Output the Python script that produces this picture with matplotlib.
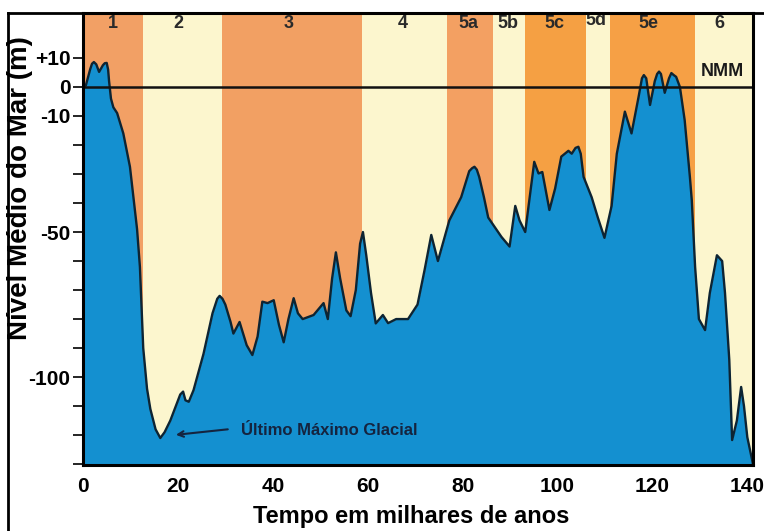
import numpy as np
import matplotlib.pyplot as plt
from matplotlib.lines import Line2D

plt.rcParams['font.family'] = ['Liberation Sans', 'DejaVu Sans']
plt.rcParams['font.weight'] = 'bold'

# Curva do nivel do mar (idade em milhares de anos, nivel em metros)
idade = [0, 0.6, 1.5, 1.9, 2.3, 2.8, 3.4, 4.2, 4.6, 5.0, 5.3, 5.5, 5.9, 6.4, 7.2, 8.5,
         9.9, 11.4, 12.0, 12.7, 13.5, 14.2, 15.3, 16.3, 17.2, 18.4, 20.5, 21.1, 21.6,
         22.3, 23.3, 25.4, 27.3, 28.3, 28.8, 29.4, 30.0, 31.1, 31.7, 33.0, 34.5, 35.7,
         36.8, 37.8, 38.9, 40.2, 41.3, 42.3, 43.3, 44.4, 45.3, 46.3, 48.6, 50.7, 51.6,
         52.5, 53.3, 54.2, 55.5, 56.4, 57.5, 58.4, 59.0, 59.7, 60.7, 61.7, 63.2, 64.3,
         66.0, 68.5, 70.5, 72.0, 73.4, 74.8, 76.0, 77.2, 79.7, 81.4, 82.0, 82.5, 83.0,
         83.5, 84.5, 85.4, 88.2, 89.9, 91.1, 92.0, 93.2, 95.1, 96.0, 96.8, 98.3, 99.5,
         100.8, 102.3, 103.0, 103.8, 104.4, 104.9, 105.5, 107.2, 108.5, 109.9, 111.4,
         112.5, 114.2, 115.6, 117.1, 117.8, 118.2, 118.7, 119.5, 120.5, 121.0, 121.4,
         121.8, 122.6, 123.5, 124.0, 124.5, 125.0, 125.8, 126.8, 127.9, 128.3, 129.0,
         129.8, 131.1, 132.1, 133.6, 134.7, 135.3, 136.2, 136.8, 137.8, 138.7, 139.3,
         140.0, 141.2]
nivel = [0, 0.5, 6, 8.0, 8.6, 7.8, 5.2, 7.5, 8.2, 8.3, 6, 2, -4, -7, -9, -16,
         -27.5, -49, -62, -90, -104, -111, -118, -121, -119, -115, -106, -105, -108,
         -108.5, -104.5, -92, -78, -73, -72, -73, -75, -81, -85, -81, -89, -92.4,
         -86, -74, -74.5, -73.5, -82, -88, -80, -72.8, -78, -80, -78.6, -74.5, -80,
         -66, -57, -66, -77, -79, -70, -54, -50, -58, -71, -81.5, -78.6, -81.4,
         -80, -80, -75, -63, -51, -60, -53, -46, -38, -29, -28, -27.5, -28.5,
         -31, -38, -45, -51.7, -55, -41, -46, -50, -25.8, -29.8, -29.3, -42.4, -35,
         -24, -22, -23, -21, -20.6, -23, -31, -38, -45, -52, -41,
         -23, -8.5, -16, -3.3, 3, 4.1, 3, -6.2, 2, 4.5, 5.3,
         4.5, -2, 3, 4.8, 4.1, 3.5, 0, -11.4, -31, -39, -62,
         -80, -83.8, -71, -58, -60, -71, -94, -121.7, -115, -103.4, -110,
         -120.7, -130]

# Estagios isotopicos marinhos (limites em milhares de anos)
estagios = ['1', '2', '3', '4', '5a', '5b', '5c', '5d', '5e', '6']
limites = [0, 12.7, 29.2, 58.8, 76.7, 86.5, 93.2, 106.1, 111.0, 129.0, 141.2]
cores_faixa = ['#F2A065', '#FCF6CE', '#F2A063', '#FCF6CE', '#F3A062',
               '#FCF6CE', '#F5A043', '#FCF6CE', '#F6A045', '#FCF6CE']
pos_rotulo = [6.3, 20.1, 43.3, 67.4, 81.2, 89.6, 99.4, 108.2, 119.2, 134.2]

yticks = list(range(-130, 11, 10))
ytick_labels = ['' for _ in yticks]
ytick_labels[yticks.index(10)] = '+10'
ytick_labels[yticks.index(0)] = '0'
ytick_labels[yticks.index(-10)] = '-10'
ytick_labels[yticks.index(-50)] = '-50'
ytick_labels[yticks.index(-100)] = '-100'
xticks = [0, 20, 40, 60, 80, 100, 120, 140]

fig = plt.figure(figsize=(7.64, 5.31), dpi=100)
ax = fig.add_axes([0.1086, 0.1243, 0.8770, 0.8512])

for i in range(len(estagios)):
    ax.axvspan(limites[i], limites[i + 1], color=cores_faixa[i], lw=0, zorder=0)
    y_txt = 23 if estagios[i] == '5d' else 22
    ax.text(pos_rotulo[i], y_txt, estagios[i], ha='center', va='center',
            fontsize=13, fontweight='bold', color='#2a2a2a')

ax.fill_between(idade, nivel, -135, color='#1490D0', lw=0, zorder=2)
ax.plot(idade, nivel, color='#0d2433', lw=1.7, zorder=3,
        solid_joinstyle='round')

# Linha do nivel medio do mar
ax.axhline(0, color='#111111', lw=1.8, zorder=4)
ax.text(134.7, 5.2, 'NMM', ha='center', va='center', fontsize=13,
        fontweight='bold', color='#1a1a1a', zorder=5)

ax.annotate('', xy=(19.0, -120.0), xytext=(31.1, -117.9),
            arrowprops=dict(arrowstyle='->', color='#15243f', lw=1.5), zorder=5)
ax.text(33.2, -118.3, 'Último Máximo Glacial', ha='left', va='center',
        fontsize=12, fontweight='bold', color='#15243f', zorder=5)

ax.set_xlim(0, 141.2)
ax.set_ylim(-130.3, 25.5)
ax.set_xticks(xticks)
ax.set_xticklabels([str(t) for t in xticks], fontsize=15, fontweight='bold')
ax.set_yticks(yticks)
ax.set_yticklabels(ytick_labels, fontsize=15, fontweight='bold')
ax.tick_params(axis='x', length=0, pad=9)
ax.tick_params(axis='y', length=7, width=1.2, pad=2)

for s in ax.spines.values():
    s.set_linewidth(2.2)
    s.set_zorder(6)

ax.set_xlabel('Tempo em milhares de anos', fontsize=17, fontweight='bold', va='center')
ax.xaxis.set_label_coords(0.49, -0.113)
ax.set_ylabel('Nível Médio do Mar (m)', fontsize=20, fontweight='bold', va='center')
ax.yaxis.set_label_coords(-0.094, 0.613)

# Moldura externa
fig.add_artist(Line2D([7.5 / 764, 7.5 / 764], [0, 1 - 12.5 / 531],
                      transform=fig.transFigure, color='black', lw=2))
fig.add_artist(Line2D([7.5 / 764, 1], [1 - 12.5 / 531, 1 - 12.5 / 531],
                      transform=fig.transFigure, color='black', lw=2))

fig.savefig('out.png', dpi=100)
